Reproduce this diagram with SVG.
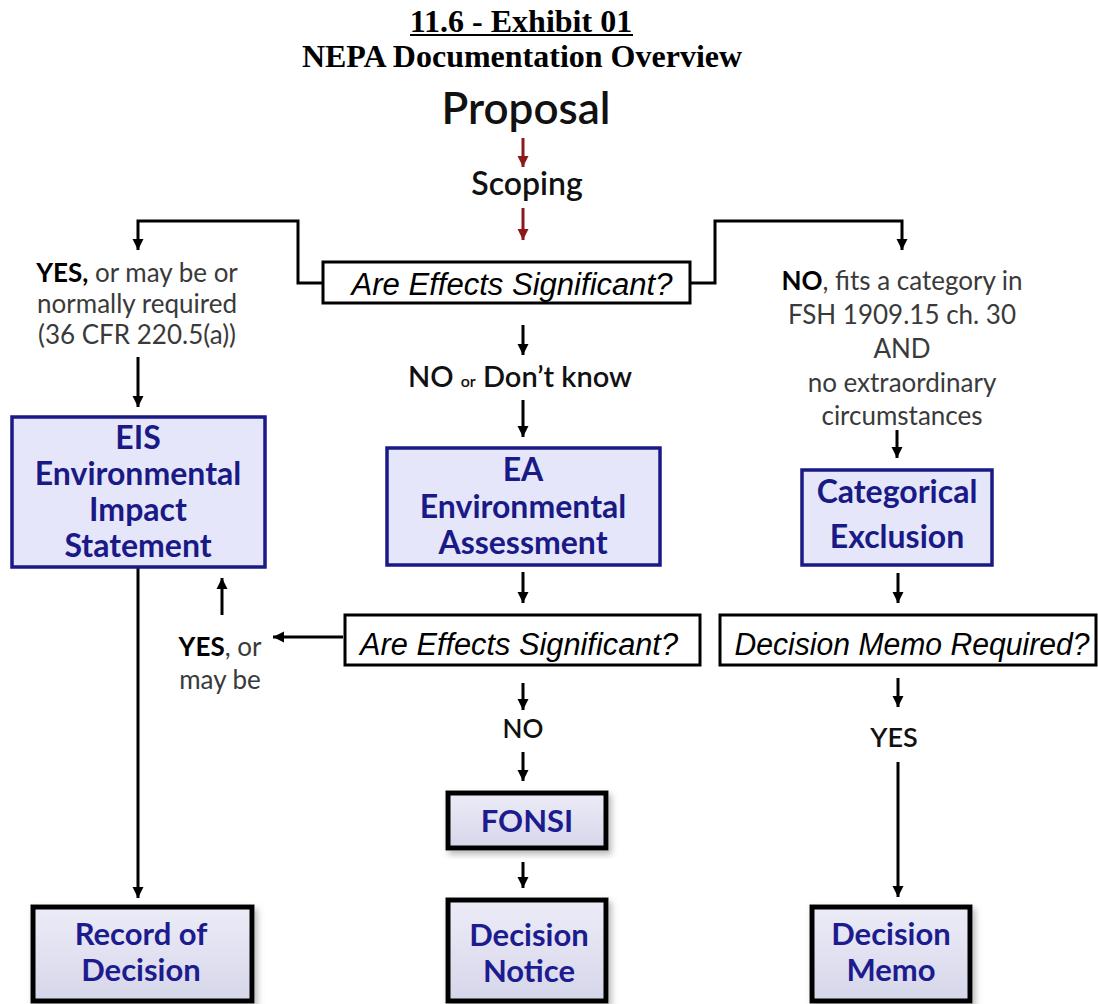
<svg xmlns="http://www.w3.org/2000/svg" width="1098" height="1004" viewBox="0 0 1098 1004">
<style>
.title{font-family:"Liberation Serif","Times New Roman",serif;font-weight:bold;font-size:32px;fill:#000;text-anchor:middle}
.cal{font-family:Lato,"Noto Sans",sans-serif;text-anchor:middle;fill:#111}
.semi{font-weight:600}
.lbl{font-family:Lato,"Noto Sans",sans-serif;font-size:26px;fill:#3a3a3a;text-anchor:middle}
.lbl .b{font-weight:bold;fill:#000}
.q{font-family:"Liberation Sans",Arial,sans-serif;font-style:italic;font-size:31px;fill:#000;text-anchor:middle}
.qbox{fill:#fff;stroke:#000;stroke-width:3}
.bbox{fill:#e6e6fa;stroke:#1a1a86;stroke-width:3.5}
.btxt{font-family:Lato,"Noto Sans",sans-serif;font-weight:bold;font-size:32px;fill:#1a1a86;text-anchor:middle}
.dbox{fill:url(#dg);stroke:#000;stroke-width:5;filter:url(#sh)}
.dtxt{font-family:Lato,"Noto Sans",sans-serif;font-weight:bold;font-size:31px;fill:#1c1c8e;text-anchor:middle}
.conn{fill:none;stroke:#000;stroke-width:3;marker-end:url(#ah)}
.red{fill:none;stroke:#8b1a1a;stroke-width:3;marker-end:url(#ahr)}
</style>
<defs>
<marker id="ah" markerUnits="userSpaceOnUse" markerWidth="12" markerHeight="12" refX="11" refY="6" orient="auto"><path d="M0,0.5 L11,6 L0,11.5 z" fill="#000"/></marker>
<marker id="ahr" markerUnits="userSpaceOnUse" markerWidth="12" markerHeight="12" refX="11" refY="6" orient="auto"><path d="M0,0.5 L11,6 L0,11.5 z" fill="#8b1a1a"/></marker>
<linearGradient id="dg" x1="0" y1="0" x2="0" y2="1"><stop offset="0" stop-color="#ececf8"/><stop offset="1" stop-color="#d6d6ea"/></linearGradient>
<filter id="sh" x="-10%" y="-10%" width="130%" height="130%"><feDropShadow dx="3" dy="4" stdDeviation="3" flood-color="#888" flood-opacity="0.6"/></filter>
</defs>
<rect width="1098" height="1004" fill="#fff"/>

<g id="title">
<text class="title" x="521" y="32">11.6 - Exhibit 01</text>
<line x1="410" y1="35" x2="633" y2="35" stroke="#000" stroke-width="2"/>
<text class="title" x="522" y="67">NEPA Documentation Overview</text>
</g>

<g id="connectors">
<path class="red" d="M523,138 V167"/>
<path class="red" d="M523,208 V240"/>
<path class="conn" d="M323,283 H298 V221 H138 V250"/>
<path class="conn" d="M690,283 H715 V221 H902 V250"/>
<path class="conn" d="M138,357 V407"/>
<path class="conn" d="M523,325 V355"/>
<path class="conn" d="M523,400 V437"/>
<path class="conn" d="M897,430 V458"/>
<path class="conn" d="M523,572 V603"/>
<path class="conn" d="M898,573 V603"/>
<path class="conn" d="M343,637 H273"/>
<path class="conn" d="M222,615 V578"/>
<path class="conn" d="M138,567 V898"/>
<path class="conn" d="M523,683 V710"/>
<path class="conn" d="M523,752 V781"/>
<path class="conn" d="M523,862 V888"/>
<path class="conn" d="M898,678 V707"/>
<path class="conn" d="M898,762 V897"/>
</g>

<g id="proposal"><text class="cal semi" x="526" y="124" font-size="44">Proposal</text></g>
<g id="scoping"><text class="cal semi" x="527" y="195" font-size="32">Scoping</text></g>

<g id="q1">
<rect class="qbox" x="323" y="262" width="367" height="41"/>
<text class="q" x="512" y="295" textLength="321" lengthAdjust="spacingAndGlyphs">Are Effects  Significant?</text>
</g>

<g id="yes-label">
<text class="lbl" x="137" y="282"><tspan class="b">YES,</tspan> or may be or</text>
<text class="lbl" x="137" y="313">normally required</text>
<text class="lbl" x="137" y="344">(36 CFR 220.5(a))</text>
</g>

<g id="no-label">
<text class="lbl" x="902" y="290"><tspan class="b">NO</tspan>, fits a category in</text>
<text class="lbl" x="902" y="324">FSH 1909.15 ch. 30</text>
<text class="lbl" x="902" y="358">AND</text>
<text class="lbl" x="902" y="392">no extraordinary</text>
<text class="lbl" x="902" y="425">circumstances</text>
</g>

<g id="no-dontknow">
<text class="cal semi" x="520" y="387" font-size="29" fill="#000">NO <tspan font-size="16">or</tspan> Don’t know</text>
</g>

<g id="eis">
<rect class="bbox" x="12" y="417" width="253" height="150"/>
<text class="btxt" x="138" y="449">EIS</text>
<text class="btxt" x="138" y="485">Environmental</text>
<text class="btxt" x="138" y="521">Impact</text>
<text class="btxt" x="138" y="557">Statement</text>
</g>

<g id="ea">
<rect class="bbox" x="387" y="448" width="273" height="117"/>
<text class="btxt" x="523" y="481">EA</text>
<text class="btxt" x="523" y="518">Environmental</text>
<text class="btxt" x="523" y="554">Assessment</text>
</g>

<g id="ce">
<rect class="bbox" x="802" y="470" width="190" height="95"/>
<text class="btxt" x="897" y="503">Categorical</text>
<text class="btxt" x="897" y="548">Exclusion</text>
</g>

<g id="q2">
<rect class="qbox" x="345" y="615" width="355" height="50"/>
<text class="q" x="519" y="655" textLength="318" lengthAdjust="spacingAndGlyphs">Are Effects  Significant?</text>
</g>

<g id="q3">
<rect class="qbox" x="720" y="615" width="376" height="50"/>
<text class="q" x="912" y="655" textLength="355" lengthAdjust="spacingAndGlyphs">Decision Memo Required?</text>
</g>

<g id="yes-or">
<text class="lbl" x="220" y="656"><tspan class="b">YES</tspan>, or</text>
<text class="lbl" x="220" y="689">may be</text>
</g>

<g id="no2"><text class="cal semi" x="523" y="738" font-size="26" fill="#000">NO</text></g>
<g id="yes2"><text class="cal semi" x="894" y="747" font-size="27" fill="#000">YES</text></g>

<g id="fonsi">
<rect class="dbox" x="448" y="793" width="158" height="55"/>
<text class="dtxt" x="527" y="832">FONSI</text>
</g>

<g id="decision-notice">
<rect class="dbox" x="448" y="900" width="158" height="101"/>
<text class="dtxt" x="529" y="946">Decision</text>
<text class="dtxt" x="529" y="982">Notice</text>
</g>

<g id="record-of-decision">
<rect class="dbox" x="33" y="907" width="219" height="94"/>
<text class="dtxt" x="141" y="945">Record of</text>
<text class="dtxt" x="141" y="981">Decision</text>
</g>

<g id="decision-memo">
<rect class="dbox" x="812" y="907" width="158" height="94"/>
<text class="dtxt" x="891" y="945">Decision</text>
<text class="dtxt" x="891" y="981">Memo</text>
</g>
</svg>
